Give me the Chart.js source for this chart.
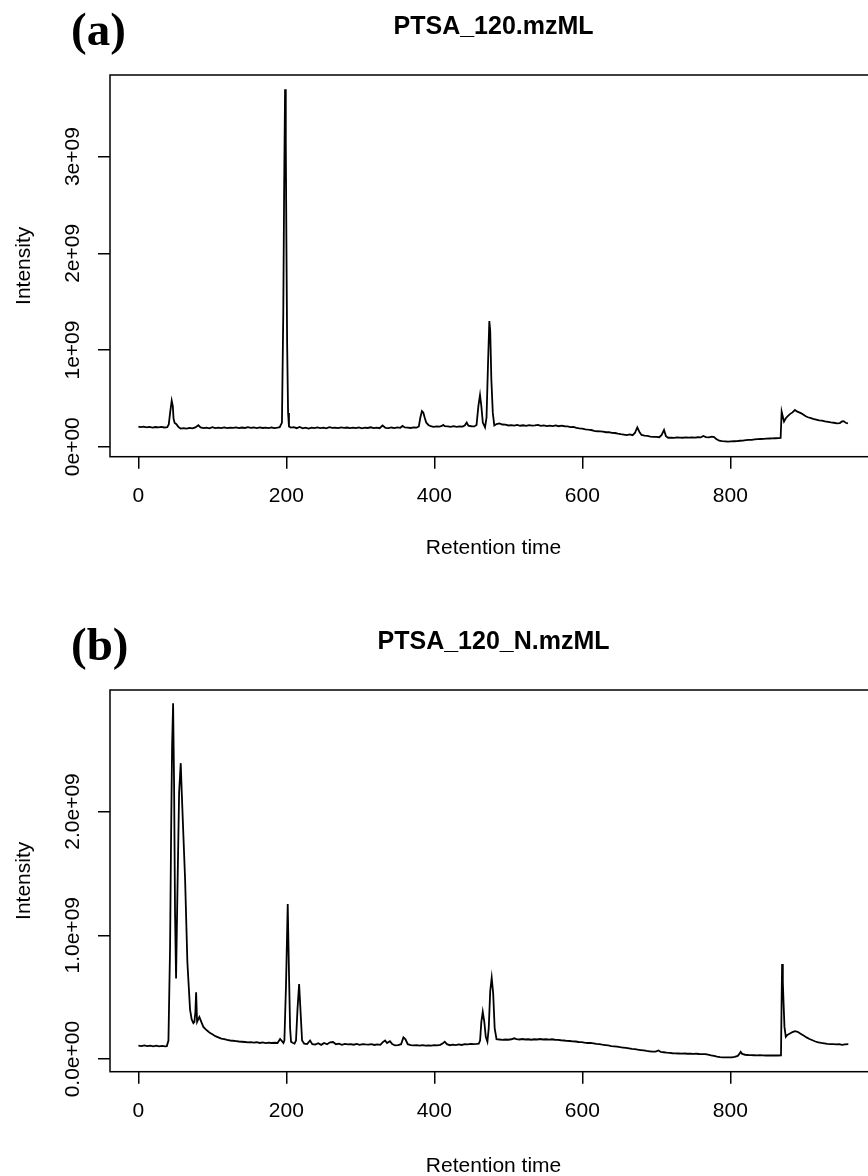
<!DOCTYPE html>
<html>
<head>
<meta charset="utf-8">
<script src="https://cdn.jsdelivr.net/npm/chart.js@4/dist/chart.umd.min.js"></script>
<style>
html, body { margin: 0; padding: 0; background: #fff; overflow: hidden; width: 868px; height: 1176px; }
.panel { position: absolute; left: 0; width: 890px; height: 561px; }
.tag { position: absolute; left: 71px; font: bold 47px "Liberation Serif", "Times New Roman", serif; line-height: 1; color: #000; }
</style>
</head>
<body>
<div class="panel" style="top:0"><canvas id="chartA" width="890" height="561"></canvas></div>
<div class="panel" style="top:615px"><canvas id="chartB" width="890" height="561"></canvas></div>
<div class="tag" style="top:6px">(a)</div>
<div class="tag" style="top:621px">(b)</div>
<script>
// retention time (s) and intensity (x1e8)
const rtA = [0,3,7,11,15,19,23,27,31,35,39,41,43,45,46.5,47.5,49,51,54,57,61,65,69,73,77,81,84,88,92,96,100,104,108,112,116,120,124,128,132,136,140,144,148,152,156,160,164,168,172,176,180,184,188,191,194,195.8,197,198.2,199.2,200,201,202.3,203.5,206,210,214,218,222,226,230,234,238,242,246,250,254,258,262,266,270,274,278,282,286,290,294,298,302,306,310,314,318,322,326,330,334,338,342,346,350,354,357,360,364,368,372,376,379,381,383.2,385,387,389,392,395,399,403,407,410,412,414,418,422,426,430,434,438,441,443.7,446,450,454,457,459.5,461.7,463.5,465.5,468.5,470.5,472.5,474.3,475.5,477,479,481,484,488,492,496,500,504,508,512,516,520,524,528,532,536,540,544,548,552,556,560,564,568,572,576,580,584,588,592,596,600,604,608,612,616,620,624,628,632,636,640,644,648,652,656,660,664,668,671,674.3,677,680,684,688,692,696,700,704,707,710.4,713,716,720,724,728,732,736,740,744,748,752,756,760,763.5,767,771,775,778,781,785,789,793,797,801,805,809,813,817,821,825,829,833,837,841,845,849,853,857,861,865,868,869.4,871,872.6,875,878,881,884,887.4,890,893,896,899,902,905,909,912,916,920,924,928,932,936,940,944,948,951,953,956,959];
const intA = [2.07,2.02,2.08,2.00,2.05,1.98,2.04,2.00,2.06,1.99,2.03,2.3,3.6,4.76,4.2,2.9,2.45,2.35,2.05,1.88,1.92,1.88,1.95,1.90,2.00,2.22,2.00,1.92,1.97,1.90,2.02,1.92,1.98,1.93,2.00,1.92,1.98,1.95,2.01,1.93,1.99,1.94,2.02,1.95,1.99,1.92,2.00,1.94,1.98,1.92,1.99,1.93,1.97,2.02,2.5,13.8,27,36.96,31.5,21.4,10.7,3.5,2.1,1.98,2.03,1.92,2.04,1.90,1.98,1.88,1.97,1.92,2.00,1.93,1.97,1.91,2.02,1.95,1.98,1.92,2.00,1.95,1.99,1.93,1.97,1.92,1.99,1.90,1.98,1.94,2.01,1.93,1.97,1.92,2.20,1.95,1.92,1.99,1.93,2.00,1.96,2.15,2.00,1.97,1.94,2.00,1.98,2.10,3.0,3.69,3.55,3.0,2.5,2.25,2.12,2.05,2.10,2.08,2.15,2.25,2.12,2.10,2.06,2.12,2.05,2.10,2.08,2.20,2.50,2.18,2.12,2.10,2.25,4.2,5.35,4.2,2.5,2.0,3.0,8.5,13.0,12.0,7.0,3.5,2.2,2.35,2.42,2.30,2.28,2.20,2.24,2.18,2.25,2.17,2.22,2.16,2.24,2.18,2.20,2.26,2.15,2.20,2.13,2.18,2.14,2.20,2.12,2.18,2.12,2.10,2.03,2.06,1.96,1.90,1.88,1.80,1.76,1.73,1.65,1.60,1.58,1.56,1.50,1.52,1.44,1.42,1.35,1.30,1.26,1.21,1.28,1.20,1.42,2.0,1.55,1.22,1.15,1.12,1.05,1.03,1.02,0.98,1.2,1.73,1.1,0.93,0.95,0.92,0.96,0.95,0.93,0.96,0.94,0.97,0.94,0.98,0.96,1.12,0.99,0.96,1.05,1.00,0.80,0.62,0.58,0.55,0.52,0.55,0.57,0.59,0.62,0.64,0.68,0.70,0.72,0.76,0.78,0.80,0.81,0.83,0.85,0.86,0.88,0.90,0.91,3.62,3.1,2.6,2.95,3.2,3.4,3.55,3.8,3.65,3.55,3.45,3.3,3.15,3.05,2.95,2.88,2.80,2.72,2.70,2.62,2.58,2.52,2.48,2.42,2.45,2.62,2.65,2.48,2.42];

const rtB = [0,4,8,12,16,20,24,28,32,36,38.4,40.6,42.8,44.2,45.5,46.9,48.2,49.5,50.9,52.7,55,57.2,58.6,60.5,63.1,66.2,69.8,72,74.3,75.7,77,78,79.3,82.4,85,87.8,91,94,97,100,104,108,112,116,120,124,128,132,136,140,144,148,152,156,160,164,168,172,176,180,184,188,191.5,194,196,197.3,199.5,201.8,203.5,205,206.3,209,211,213,215,217.2,219,221.2,224,228,232,235,239,243,247,251,255,259,263,267,271,275,279,283,287,291,295,299,303,307,311,315,319,323,327,330,333.4,336,340,343,347,351,355,358.2,361,364,368,372,376,380,384,388,392,396,400,404,408,411,414,417,421,425,429,433,437,441,445,449,453,457,460,461.8,463.5,465.4,467.5,469.5,471.7,473.5,475.5,477.5,479.5,481.5,484,488,492,496,500,504,508,511,515,519,523,527,531,535,539,543,547,551,555,559,563,567,571,575,579,583,587,591,595,599,603,607,611,615,619,623,627,631,635,639,643,647,651,655,659,663,667,671,675,679,683,687,691,695,699,703,706,710,714,718,722,726,730,734,738,742,746,750,754,758,762,766,770,774,778,782,786,790,794,798,802,806,810,812,814,816,820,824,828,832,836,840,844,848,852,856,860,864,868.5,869.4,870,871,872,873.2,875,877,880,884,887.4,891,895,899,903,907,911,915,919,923,927,931,935,939,943,947,951,955,959.5];
const intB = [1.08,1.05,1.10,1.04,1.09,1.03,1.08,1.02,1.07,1.03,1.05,1.5,9.07,18.2,25.2,28.73,22.3,11.8,6.5,13.4,21.5,23.9,21.5,18.5,14.5,7.8,4.0,3.2,2.9,3.0,3.8,5.4,3.0,3.4,3.0,2.6,2.4,2.25,2.1,2.0,1.85,1.75,1.65,1.62,1.55,1.50,1.48,1.45,1.42,1.40,1.38,1.35,1.37,1.33,1.36,1.30,1.34,1.29,1.33,1.30,1.32,1.30,1.62,1.45,1.3,1.5,6.0,12.52,7.0,2.5,1.4,1.3,1.25,1.5,4.0,6.06,4.0,1.5,1.25,1.22,1.50,1.20,1.18,1.28,1.15,1.30,1.20,1.35,1.38,1.20,1.25,1.15,1.22,1.18,1.20,1.16,1.22,1.15,1.20,1.18,1.17,1.20,1.14,1.18,1.15,1.35,1.50,1.30,1.45,1.22,1.10,1.12,1.20,1.75,1.60,1.20,1.12,1.10,1.12,1.08,1.12,1.08,1.10,1.08,1.12,1.10,1.15,1.25,1.40,1.20,1.12,1.16,1.12,1.18,1.14,1.20,1.18,1.22,1.20,1.22,1.25,1.5,3.0,3.82,3.0,1.8,1.4,2.5,5.5,6.57,5.3,2.5,1.6,1.58,1.55,1.58,1.56,1.60,1.68,1.62,1.58,1.62,1.58,1.60,1.56,1.60,1.58,1.62,1.58,1.60,1.57,1.60,1.56,1.55,1.52,1.50,1.47,1.46,1.43,1.42,1.38,1.37,1.33,1.30,1.30,1.27,1.22,1.20,1.16,1.13,1.10,1.05,1.03,1.00,0.96,0.93,0.90,0.86,0.82,0.80,0.76,0.73,0.70,0.66,0.63,0.60,0.60,0.70,0.58,0.55,0.52,0.50,0.47,0.46,0.45,0.44,0.45,0.43,0.44,0.42,0.43,0.41,0.40,0.40,0.36,0.30,0.25,0.20,0.16,0.14,0.13,0.13,0.14,0.17,0.25,0.40,0.59,0.42,0.35,0.33,0.32,0.31,0.30,0.31,0.30,0.29,0.30,0.29,0.30,0.29,0.30,5.0,7.67,6.2,4.5,2.6,1.8,1.95,2.05,2.18,2.26,2.2,2.05,1.90,1.75,1.62,1.52,1.42,1.35,1.30,1.27,1.22,1.20,1.21,1.18,1.20,1.15,1.18,1.20];

const xTicks = [0, 200, 400, 600, 800];
const yTicksA = [0, 1e9, 2e9, 3e9];
const yLabelsA = ["0e+00", "1e+09", "2e+09", "3e+09"];
const yTicksB = [0, 0.5e9, 1e9, 1.5e9, 2e9, 2.5e9];
const yLabelsB = ["0.0e+00", "", "1.0e+09", "", "2.0e+09", ""];

Chart.defaults.font.family = '"Liberation Sans", Arial, sans-serif';
Chart.defaults.color = "#000";

const framePlugin = {
    id: "frame",
    afterDraw(chart) {
        const { ctx, chartArea: a } = chart;
        ctx.save();
        ctx.strokeStyle = "#000";
        ctx.lineWidth = 1.5;
        ctx.strokeRect(a.left, a.top, a.right - a.left, a.bottom - a.top);
        ctx.restore();
    },
};

function drawChromatogram(id, title, rt, inten, yMin, yMax, yTicks, yLabels, yPad, xTitlePad) {
    const ctx = document.getElementById(id).getContext("2d");
    return new Chart(ctx, {
        type: "line",
        data: {
            datasets: [{
                data: rt.map((x, i) => ({ x: x, y: inten[i] * 1e8 })),
                borderColor: "#000",
                borderWidth: 1.8,
                pointRadius: 0,
                tension: 0,
                fill: false,
            }],
        },
        options: {
            responsive: false,
            animation: false,
            layout: { padding: { left: 0, right: 12.9, top: 0, bottom: 0 } },
            plugins: {
                legend: { display: false },
                tooltip: { enabled: false },
                title: {
                    display: true,
                    text: title,
                    fullSize: false,
                    font: { size: 25, weight: "bold" },
                    padding: { top: 12, bottom: 33 },
                },
            },
            scales: {
                x: {
                    type: "linear",
                    min: -38.4,
                    max: 998.4,
                    afterBuildTicks: (s) => { s.ticks = xTicks.map((v) => ({ value: v })); },
                    ticks: { font: { size: 21 }, padding: 14.7, maxRotation: 0 },
                    grid: { display: true, drawOnChartArea: false, drawTicks: true, tickLength: 12, color: "#000", lineWidth: 1.5 },
                    border: { display: false },
                    title: { display: true, text: "Retention time", font: { size: 21 }, padding: { top: 0, bottom: xTitlePad } },
                    afterFit: (s) => { s.height = 104.3; },
                },
                y: {
                    type: "linear",
                    min: yMin,
                    max: yMax,
                    afterBuildTicks: (s) => { s.ticks = yTicks.map((v) => ({ value: v })); },
                    ticks: {
                        font: { size: 21 },
                        minRotation: 90,
                        maxRotation: 90,
                        crossAlign: "center",
                        padding: yPad,
                        callback: (v, i) => yLabels[i],
                    },
                    grid: { display: true, drawOnChartArea: false, drawTicks: true, tickLength: 12, color: "#000", lineWidth: 1.5 },
                    border: { display: false },
                    title: { display: true, text: "Intensity", font: { size: 21 }, padding: { top: 12, bottom: 0 } },
                    afterFit: (s) => { s.width = 110; },
                },
            },
        },
        plugins: [framePlugin],
    });
}

drawChromatogram("chartA", "PTSA_120.mzML", rtA, intA, -0.103e9, 3.844e9, yTicksA, yLabelsA, -5, 0);
drawChromatogram("chartB", "PTSA_120_N.mzML", rtB, intB, -0.102e9, 2.981e9, yTicksB, yLabelsB, -13, -3);
</script>
</body>
</html>
